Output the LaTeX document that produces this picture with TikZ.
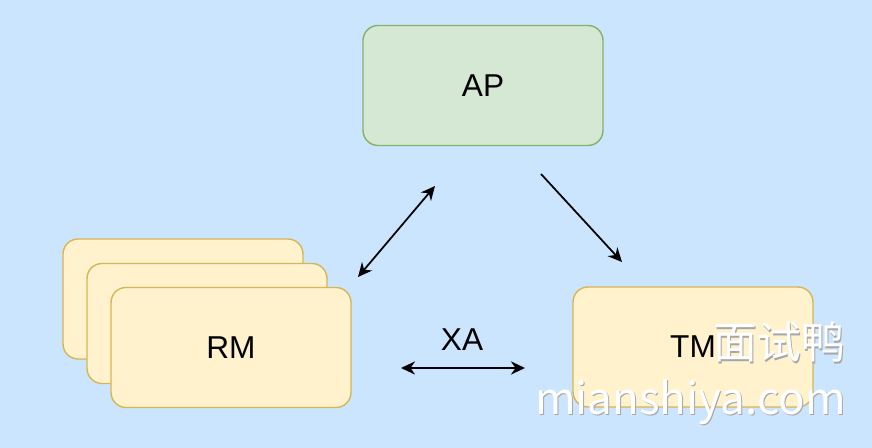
\documentclass[tikz,border=0pt]{standalone}
\usepackage{fontspec}
\setmainfont{Liberation Sans}
\newfontfamily\cjk{Noto Sans CJK SC}
\usetikzlibrary{arrows.meta}
\definecolor{bgblue}{HTML}{CCE5FF}
\definecolor{apfill}{HTML}{D5E8D4}
\definecolor{apline}{HTML}{82B366}
\definecolor{mfill}{HTML}{FFF2CC}
\definecolor{mline}{HTML}{D6B656}

\begin{document}
\begin{tikzpicture}[x=0.02cm, y=-0.02cm,
	greenbox/.style={draw=apline, fill=apfill, line width=0.8pt,
		rounded corners=0.3cm, minimum width=4.8cm, minimum height=2.4cm,
		inner sep=0pt, font=\fontsize{18}{20}\selectfont},
	yellowbox/.style={draw=mline, fill=mfill, line width=0.8pt,
		rounded corners=0.3cm, minimum width=4.8cm, minimum height=2.4cm,
		inner sep=0pt, font=\fontsize{18}{20}\selectfont},
	arr/.style={line width=1pt, -{Stealth[length=8pt,width=7.5pt]}},
	darr/.style={line width=1pt, {Stealth[length=8pt,width=7.5pt]}-{Stealth[length=8pt,width=7.5pt]}},
	wmark/.style={font=\cjk\fontsize{25}{27}\selectfont, anchor=east, inner sep=0pt}]
	\fill[bgblue] (0,0) rectangle (872,448);
	\node [greenbox] (ap) at (483,85.5) {AP};
	\node [yellowbox] (rm3) at (183,299) {};
	\node [yellowbox] (rm2) at (207,323.5) {};
	\node [yellowbox] (rm1) at (231,347.5) {RM};
	\node [yellowbox] (tm) at (693,347) {TM};
	\node [font=\fontsize{18}{20}\selectfont] (xa) at (462,340) {XA};
	\coordinate (rmup) at (358,277);
	\coordinate (apdown) at (435,186);
	\coordinate (apout) at (541,174);
	\coordinate (tmin) at (622,262);
	\coordinate (xaleft) at (401,368);
	\coordinate (xaright) at (525,368);
	\draw[darr] (rmup) -- (apdown);
	\draw[arr] (apout) -- (tmin);
	\draw[darr] (xaleft) -- (xaright);
	% watermark
	\node [wmark, text=black!35] (cnshadow) at (847,343.5) {面试鸭};
	\node [wmark, text=white] (cn) at (846,342) {面试鸭};
	\node [wmark, text=black!35] (enshadow) at (847,403.5) {mianshiya.com};
	\node [wmark, text=white] (en) at (846,402) {mianshiya.com};
\end{tikzpicture}
\end{document}
